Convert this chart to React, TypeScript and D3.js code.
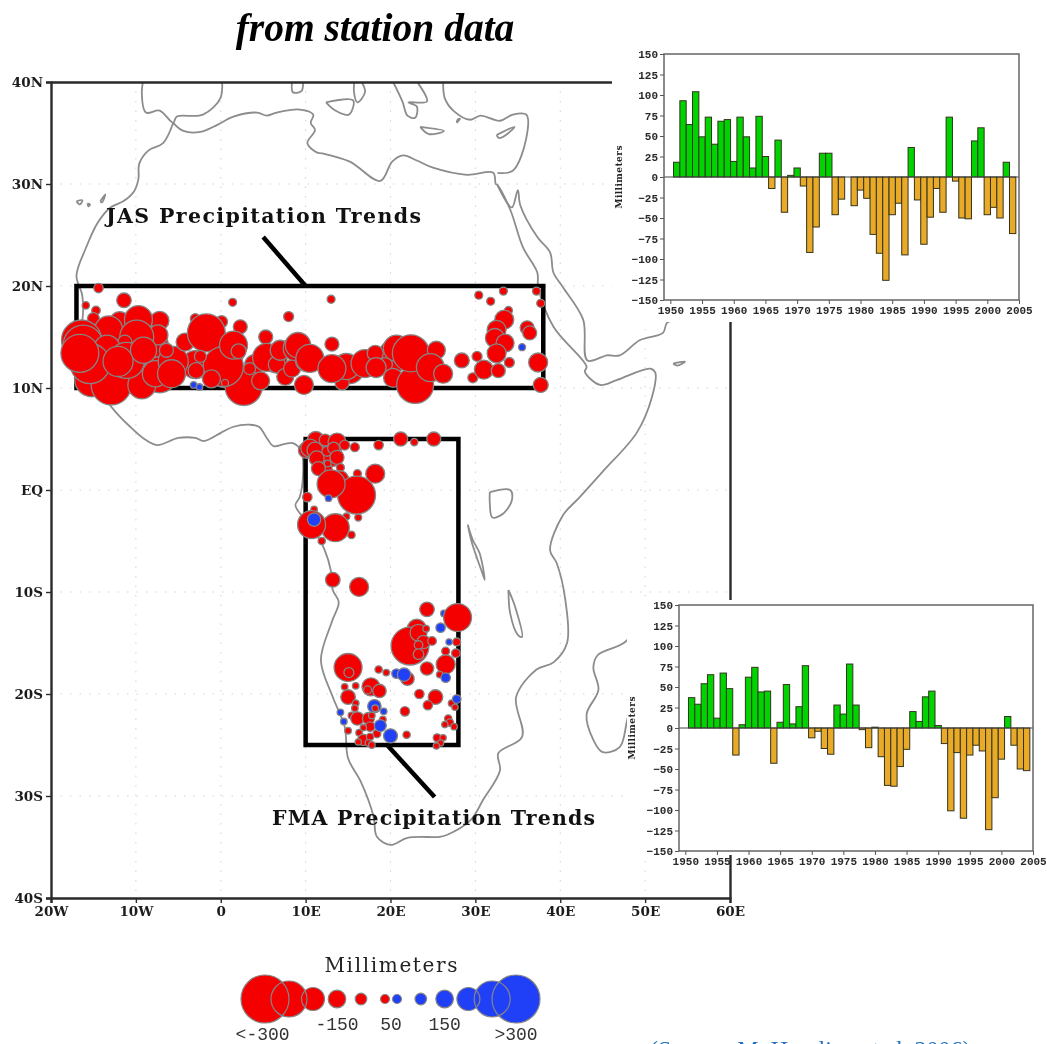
import React, { useEffect, useRef } from 'react';
import * as d3 from 'd3';

type Pt = [number, number];
type Station = [number, number, number];

// yearly anomalies, mm
const years = d3.range(1951, 2005);
const jasValues = [18, 93, 64, 104, 49, 73, 40, 68, 70, 19, 73, 49, 11, 74, 25, -14, 45, -43, 2, 11, -11, -92, -61, 29, 29, -46, -27, 0, -35, -16, -26, -70, -93, -126, -46, -32, -95, 36, -28, -82, -49, -14, -43, 73, -5, -50, -51, 44, 60, -46, -37, -50, 18, -69];
const fmaValues = [37, 29, 54, 65, 12, 67, 48, -33, 4, 62, 74, 44, 45, -43, 7, 53, 5, 26, 76, -12, -4, -25, -32, 28, 17, 78, 28, -2, -24, 1, -35, -70, -71, -47, -26, 20, 8, 38, 45, 3, -19, -101, -30, -110, -33, -21, -28, -124, -85, -38, 14, -21, -50, -52];
const barTicks = d3.range(-150, 151, 25);
const yearTicks = d3.range(1950, 2006, 5);

const latTicks = [40, 30, 20, 10, 0, -10, -20, -30, -40];
const lonTicks = [-20, -10, 0, 10, 20, 30, 40, 50, 60];

const jasBox = [-17, 38, 10, 20];
const fmaBox = [10, 28, -25, 5];

// lon, lat outlines
const africa: Pt[] = [[-5.6, 36], [-6.8, 34], [-8.5, 33.3], [-9.6, 32], [-9.7, 30.5], [-10.2, 29.3], [-11.5, 28.3], [-13, 27.7], [-14.5, 26.2], [-15.9, 23.7], [-17, 21], [-16.3, 19], [-16.5, 16], [-17.5, 14.7], [-16.7, 13], [-16.7, 12.3], [-15, 11], [-13.7, 9.5], [-13.2, 8.5], [-12, 7.3], [-10.8, 6.3], [-9, 5], [-7.5, 4.4], [-5, 5.1], [-3, 5.1], [-2, 4.8], [0, 5.6], [1.5, 6.2], [3.4, 6.4], [4.5, 6.2], [5.5, 5], [6.2, 4.3], [7.5, 4.5], [8.5, 4.6], [9.5, 3.8], [9.7, 1.5], [9.3, -0.7], [8.8, -1.5], [10, -3], [11.2, -4.3], [12.2, -5.8], [13, -8], [13.2, -9.8], [13.9, -11], [13.1, -12.9], [11.8, -16.7], [13.2, -20.3], [14.6, -23.2], [15, -26.3], [16.5, -28.6], [18, -32], [18.4, -34], [20, -34.8], [22, -34.1], [25.8, -34], [26.7, -33.8], [29.4, -32.4], [30.9, -30.4], [32.9, -27.5], [32.7, -25.8], [35.5, -24.2], [34.8, -20.3], [37.2, -17.6], [39.2, -16.9], [40.8, -15], [40.6, -10.8], [39.6, -7.2], [38.8, -5.9], [40.3, -2.5], [42.3, -0.7], [45, 1.8], [49, 5.6], [50.8, 9.1], [51.2, 11.5], [50.6, 11.9], [46.7, 10.8], [44.7, 10.3], [42.9, 11.6], [43.1, 12.1], [39.2, 16], [37.4, 19.9], [37.3, 21.3], [35.6, 23.8], [34.1, 27.5], [32.6, 29.9], [32.4, 30], [32.1, 31.1], [29, 30.9], [25, 31.6], [23.1, 32.3], [21.5, 32.8], [20.2, 32.2], [18.8, 30.3], [15.2, 32.2], [12, 33], [11.3, 33.1], [10.2, 34], [11.1, 35.3], [10.6, 36], [10.9, 36.8], [9.3, 37.3], [6.6, 37], [5.4, 36.7], [4.3, 37], [1.5, 36.6], [-0.4, 35.8], [-2.4, 35.1], [-4.4, 35.2], [-5.6, 36]];
const iberia: Pt[] = [[-8.9, 41], [-9.3, 39], [-8.8, 37], [-7.2, 37.2], [-5.6, 36], [-5.2, 36.6], [-2.1, 36.8], [0, 38.5], [0, 41]];
const levant: Pt[] = [[26.2, 41], [26.2, 39.7], [26.4, 38.4], [27.4, 37.2], [29.4, 36.3], [30.6, 36.7], [32.9, 36.2], [34.4, 36.8], [36, 36.8], [36, 34.5], [34.4, 31.3], [32.6, 31.1]];
const arabia: Pt[] = [[32.6, 29.9], [34.3, 27.7], [35, 29.4], [35.3, 27.9], [37.3, 24.8], [38.8, 23.3], [39.2, 21.3], [40.3, 19.9], [42.7, 16.7], [43.2, 12.7], [45.5, 13.2], [47, 13.2], [49.4, 14.7], [52.1, 15.4], [52.6, 16.4], [55.3, 17.2], [57, 18.5], [59, 21]];
const italy: Pt[] = [[15.8, 40.5], [15.7, 39], [16.1, 38], [17, 39], [16.6, 40]];
const greece: Pt[] = [[20, 40.5], [21.4, 38.1], [22, 36.7], [22.9, 36.5], [23.1, 37.6], [22.1, 38], [24.3, 38.1], [22.7, 40.5]];
const madagascar: Pt[] = [[49.3, -12], [47.8, -14.8], [44.4, -16.2], [43.9, -17.4], [44.5, -19.6], [43.1, -22], [43.9, -24.5], [45, -25.7], [47, -25.2], [47.9, -22.5], [49.5, -17], [50, -15], [49.3, -12]];
const islands: Pt[][] = [
  [[8.4, 40], [8.5, 39], [9.5, 39.1], [9.7, 40]],
  [[12.4, 38], [15.6, 38.2], [15.1, 36.8], [13.5, 37.2], [12.4, 38]],
  [[23.5, 35.6], [26.3, 35.2], [24.5, 34.9], [23.5, 35.6]],
  [[32.5, 34.8], [34.6, 35.6], [33.6, 34.8], [32.8, 34.5], [32.5, 34.8]],
  [[27.8, 36], [28.2, 36.4], [27.9, 36.3], [27.8, 36]],
  [[53.3, 12.4], [54.7, 12.6], [53.8, 12.2], [53.3, 12.4]],
  [[-17, 28.3], [-16.3, 28.4], [-16.6, 28], [-17, 28.3]],
  [[-15.7, 28.1], [-15.4, 28], [-15.6, 27.8], [-15.7, 28.1]],
  [[-14.2, 28.3], [-13.6, 29], [-14, 28.2], [-14.2, 28.3]],
  [[31.7, -0.2], [34.1, 0], [34.3, -1], [33.3, -2.3], [32, -2.7], [31.7, -1.3], [31.7, -0.2]],
  [[29.1, -3.4], [29.6, -5.2], [30.8, -8.1], [31.1, -8.8], [30.5, -6.2], [29.7, -4.9], [29.1, -3.4]],
  [[33.9, -9.8], [34.7, -11.5], [35.5, -14.4], [35, -14.2], [34.1, -12.1], [33.9, -9.8]],
];

// lon, lat, trend in mm, later rows sit on top
const jasStations: Station[] = [
  [-12.5, 15.2, -227], [-8.3, 14.2, -250], [-11.9, 11.8, -267], [-7.2, 11.3, -250], [-3, 12.3, -219], [1.1, 13.7, -227], [0.5, 11.8, -250], [4, 12.3, -172], [6.4, 12.7, -204], [15.2, 11.8, -219], [20.5, 13.2, -235],
  [-14.4, 19.8, -58], [-15.9, 18.1, -23], [-11.4, 18.6, -125], [-14.7, 17.6, -43], [-15, 16.8, -103], [-11.9, 16.5, -172], [-13.2, 15.7, -219], [-7.2, 16.6, -160], [-7.4, 15.2, -172], [-16.4, 14.7, -267], [-16.2, 14.2, -267], [-9.7, 16.7, -219], [-9.9, 15, -242], [-11.3, 14.5, -120], [-13.4, 13.9, -212], [-15.2, 10.8, -242], [-12.9, 10.3, -267], [-9.3, 10.3, -219], [-15.4, 12.4, -267], [-11.1, 12.7, -250], [-9.1, 13.7, -212], [-7.7, 11.4, -212], [-5.6, 12.6, -227], [-6.4, 13.7, -120], [-5.8, 11.4, -219], [-16.6, 13.4, -258], [-12.1, 12.6, -227], [-4.2, 14.5, -154], [-3, 16.8, -69], [0.1, 16.5, -103], [-1.7, 15.4, -258], [2.3, 16, -120], [2.7, 10.1, -254], [0.3, 12.1, -267], [1.5, 14.2, -219], [-2.4, 13.1, -103], [2.1, 13.6, -128], [-2.9, 11.7, -137], [-1.1, 10.9, -154], [0.5, 10.5, -17], [3.4, 11.9, -103], [4.7, 10.7, -154], [5.3, 15, -120], [5.4, 13, -219], [6.6, 12.3, -145], [7, 13.7, -172], [7.6, 11.1, -145], [8.9, 13.9, -212], [8.4, 11.9, -145], [10.1, 12.7, -191], [9.8, 10.3, -163], [1.4, 18.4, -33], [8, 17, -69],
  [13, 18.7, -33], [9.1, 14.2, -209], [10.5, 12.9, -219], [13.1, 14.3, -120], [14.3, 10.5, -120], [14.8, 12.1, -212], [13.1, 11.9, -219], [17, 12.4, -219], [18.2, 13.4, -137], [19.4, 12.3, -120], [18.3, 12, -172], [20.3, 11, -163], [20.7, 13.9, -212], [22.9, 10.3, -254], [22.4, 13.4, -254], [25.4, 13.7, -154], [24.7, 12, -219], [26.2, 11.4, -163], [28.4, 12.7, -128], [30.2, 13.1, -69], [29.7, 11, -69], [31, 11.8, -163], [32.7, 11.7, -120], [33.9, 17.6, -33], [33.4, 16.7, -163], [32.5, 15.7, -163], [32.3, 14.9, -163], [33.5, 14.4, -154], [32.5, 13.4, -163], [34, 12.5, -69], [36.1, 15.9, -120], [36.4, 15.4, -120], [37.4, 12.5, -163], [37.7, 10.3, -128], [30.4, 19.1, -33], [31.8, 18.5, -33], [33.3, 19.5, -33], [37.2, 19.5, -33], [37.7, 18.3, -33],
  [-3.2, 10.3, 8], [-2.5, 10.1, 8], [35.5, 14, 17],
];
const fmaStations: Station[] = [
  [11.7, 3.4, -191], [13.2, 3.3, -172], [12.2, 2, -137],
  [11.2, 4.9, -145], [12.3, 4.9, -103], [13.7, 4.7, -154], [10.1, 3.9, -137], [10.5, 4.1, -154], [11.1, 3.9, -137], [12.5, 3.8, -69], [13.3, 4.1, -103], [14.6, 4.4, -69], [15.8, 4.2, -50], [18.6, 4.4, -58], [21.2, 5, -120], [22.8, 4.7, -23], [25.1, 5, -120], [11.3, 3.1, -128], [13.7, 3.2, -120], [11.5, 2.1, -120], [12.6, 2.6, -10], [14.1, 2.2, -33], [16.1, 1.6, -33], [14.8, -2.6, -17], [16.2, -2.7, -17], [14.1, 1.1, -137], [16, -0.5, -258], [13, 0.6, -219], [18.2, 1.6, -163], [10.2, -0.7, -58], [11, -1.9, -10], [13.5, -3.7, -219], [10.7, -3.4, -219], [15.4, -4.4, -23], [11.9, -5, -23], [13.2, -8.8, -125], [16.3, -9.5, -163],
  [12.7, -0.8, 10], [11, -2.9, 115],
  [26.3, -12.1, 10], [24.3, -11.7, -125], [23.1, -13.6, -163], [27.9, -12.5, -219], [22.3, -15.3, -258], [23.3, -14, -145], [24.2, -13.6, -10], [23.9, -14.9, -115], [23.3, -15.2, -43], [23.3, -16.1, -80], [24.9, -14.8, -43], [26.9, -14.9, 5], [27.8, -14.9, -33], [26.5, -15.8, -33], [27.7, -16, -43], [26.5, -17.1, -163], [24.3, -17.5, -115], [25.8, -18.1, -10], [15, -17.4, -219], [15.1, -17.9, -69], [18.6, -17.6, -23], [19.5, -17.9, -10], [22, -18.5, -115], [17.7, -19.3, -154], [18.7, -19.7, -115], [17.3, -19.6, -33], [14.6, -19.3, -10], [15.9, -19.2, -10], [15, -20.3, -125], [15.9, -20.9, -10], [15.8, -21.4, -10], [23.4, -20, -58], [25.3, -20.3, -125], [24.4, -21.1, -58], [27.2, -20.9, -10], [27.6, -21.3, -5], [21.7, -21.7, -58], [15.4, -22.1, -10], [16.1, -22.4, -115], [17.4, -22.4, -103], [19.1, -22.5, -10], [17.8, -22.1, -10], [17.6, -23.2, -58], [16.8, -23.3, -5], [15, -23.6, -10], [16.3, -23.8, -10], [18.4, -23.9, -33], [21.9, -24, -23], [16.8, -24.5, -95], [17.6, -24.2, -23], [16.2, -24.7, -5], [17.4, -24.8, -10], [17.8, -25, -10], [26.8, -22.4, -23], [27, -22.8, -23], [26.4, -23, -5], [27.5, -23.2, -8], [25.5, -24.3, -33], [26.2, -24.3, -5], [25.9, -24.8, -5], [25.4, -25.1, -5],
  [25.9, -13.5, 58], [26.5, -18.4, 58], [20.7, -18, 58], [21.6, -18.1, 115], [27.8, -20.5, 43], [18.1, -21.2, 115], [18.2, -21.4, -10], [19.2, -21.7, 10], [14.1, -21.8, 10], [14.5, -22.7, 10], [18.8, -23.1, 103], [20, -24.1, 120],
];

const legendValues = [-300, -250, -200, -150, -100, -50, 50, 100, 150, 200, 250, 300];
const legendLabels: [number, string, number][] = [[-305, '<-300', 1040], [-150, '-150', 1030], [0, '50', 1030], [150, '150', 1030], [300, '>300', 1040]];

const RED = '#f50000';
const BLUE = '#2040f8';
const OUTLINE = '#858585';
const MONO = '"Liberation Mono", monospace';
const SLAB = '"DejaVu Serif", serif';

const x = d3.scaleLinear().domain([-20, 60]).range([51, 730]);
const y = d3.scaleLinear().domain([40, -40]).range([82, 898]);
const radius = d3.scaleLinear().domain([0, 50, 100, 150, 200, 250, 300]).range([3, 4.5, 5.8, 8.8, 11.5, 18, 24]);

function drawBars(svg: any, values: number[], left: number, right: number, top: number, bottom: number, labelX: number) {
  const sx = d3.scaleLinear().domain([1949, 2005]).range([left, right]);
  const sy = d3.scaleLinear().domain([-150, 150]).range([bottom, top]);
  const g = svg.append('g');
  const step = sx(1) - sx(0);

  g.append('g').selectAll('rect').data(values).join('rect')
    .attr('x', (_: number, i: number) => sx(years[i]) - step / 2)
    .attr('width', step)
    .attr('y', (d: number) => sy(Math.max(d, 0)))
    .attr('height', (d: number) => Math.abs(sy(d) - sy(0)))
    .attr('fill', (d: number) => (d >= 0 ? '#00d400' : '#e8aa28'))
    .attr('stroke', '#33331c').attr('stroke-width', 1);

  g.append('line').attr('x1', left).attr('x2', right).attr('y1', sy(0)).attr('y2', sy(0))
    .attr('stroke', '#444').attr('stroke-width', 1);
  g.append('rect').attr('x', left).attr('y', top).attr('width', right - left).attr('height', bottom - top)
    .attr('fill', 'none').attr('stroke', '#666').attr('stroke-width', 1.5);

  const ya = g.append('g').attr('transform', `translate(${left},0)`)
    .call(d3.axisLeft(sy).tickValues(barTicks).tickSize(4).tickPadding(2).tickFormat(d3.format('d') as any));
  const xa = g.append('g').attr('transform', `translate(0,${bottom})`)
    .call(d3.axisBottom(sx).tickValues(yearTicks).tickSize(4).tickPadding(2).tickFormat(d3.format('d') as any));
  [ya, xa].forEach((a) => {
    a.select('.domain').remove();
    a.selectAll('line').attr('stroke', '#555');
    a.selectAll('text').attr('font-family', MONO).attr('font-weight', 'bold').attr('font-size', 11).attr('fill', '#2a2a2a');
  });

  g.append('text').attr('transform', `translate(${labelX},${(top + bottom) / 2}) rotate(-90)`)
    .attr('text-anchor', 'middle').attr('dy', '0.35em').attr('font-family', SLAB).attr('font-weight', 'bold')
    .attr('font-size', 9).attr('textLength', 63).attr('fill', '#222').text('Millimeters');
}

function App() {
  const ref = useRef<SVGSVGElement>(null);

  useEffect(() => {
    const svg = d3.select(ref.current);
    svg.selectAll('*').remove();

    svg.append('clipPath').attr('id', 'map-clip').append('rect')
      .attr('x', x(-20)).attr('y', y(40)).attr('width', x(60) - x(-20)).attr('height', y(-40) - y(40));

    const map = svg.append('g').attr('clip-path', 'url(#map-clip)');

    // dotted graticule
    latTicks.slice(1, -1).forEach((t) => {
      map.append('line').attr('x1', x(-20)).attr('x2', x(60)).attr('y1', y(t)).attr('y2', y(t))
        .attr('stroke', '#d2d2d2').attr('stroke-dasharray', '1.5 8');
    });
    lonTicks.slice(1, -1).forEach((t) => {
      map.append('line').attr('x1', x(t)).attr('x2', x(t)).attr('y1', y(40)).attr('y2', y(-40))
        .attr('stroke', '#d2d2d2').attr('stroke-dasharray', '1.5 8');
    });

    const line = d3.line<Pt>().x((d) => x(d[0])).y((d) => y(d[1]));
    const coast = d3.line<Pt>().x((d) => x(d[0])).y((d) => y(d[1])).curve(d3.curveCatmullRom);
    [africa, iberia, levant, arabia, italy, greece, madagascar, ...islands].forEach((shape) => {
      map.append('path').attr('d', coast(shape)).attr('fill', 'none')
        .attr('stroke', '#8c8c8c').attr('stroke-width', 1.8).attr('stroke-linejoin', 'round');
    });

    // frame and axes
    const axes = [
      d3.axisLeft(y).tickValues(latTicks).tickSize(5).tickPadding(3)
        .tickFormat((d: any) => (d === 0 ? 'EQ' : `${Math.abs(d)}${d > 0 ? 'N' : 'S'}`)),
      d3.axisBottom(x).tickValues(lonTicks).tickSize(5).tickPadding(3)
        .tickFormat((d: any) => (d === 0 ? '0' : `${Math.abs(d)}${d > 0 ? 'E' : 'W'}`)),
    ];
    svg.append('g').attr('transform', `translate(${x(-20)},0)`).call(axes[0] as any).attr('class', 'ax');
    svg.append('g').attr('transform', `translate(0,${y(-40)})`).call(axes[1] as any).attr('class', 'ax');
    svg.append('g').attr('transform', `translate(0,${y(40)})`).call(d3.axisTop(x).tickValues([]).tickSize(0) as any).attr('class', 'ax');
    svg.append('g').attr('transform', `translate(${x(60)},0)`).call(d3.axisRight(y).tickValues([]).tickSize(0) as any).attr('class', 'ax');
    svg.selectAll('.ax .domain').attr('stroke', '#2a2a2a').attr('stroke-width', 2.4);
    svg.selectAll('.ax line').attr('stroke', '#2a2a2a').attr('stroke-width', 1.4);
    svg.selectAll('.ax text').attr('font-family', SLAB).attr('font-weight', 'bold').attr('font-size', 13.5).attr('fill', '#1c1c1c');

    // boxes and their leaders
    [jasBox, fmaBox].forEach((b) => {
      svg.append('rect').attr('x', x(b[0])).attr('y', y(b[3])).attr('width', x(b[1]) - x(b[0])).attr('height', y(b[2]) - y(b[3]))
        .attr('fill', 'none').attr('stroke', '#000').attr('stroke-width', 4.5);
    });
    const leaders: Pt[][] = [[[5, 24.8], [10, 20]], [[19.6, -25], [25.2, -30.1]]];
    leaders.forEach((l) => {
      svg.append('path').attr('d', line(l)).attr('stroke', '#000').attr('stroke-width', 4.5).attr('fill', 'none');
    });

    svg.append('g').selectAll('circle').data([...jasStations, ...fmaStations]).join('circle')
      .attr('cx', (d) => x(d[0])).attr('cy', (d) => y(d[1])).attr('r', (d) => radius(Math.abs(d[2])))
      .attr('fill', (d) => (d[2] < 0 ? RED : BLUE))
      .attr('stroke', OUTLINE).attr('stroke-width', 1.3);

    // annotation text
    const note = (label: string, px: number, py: number, len: number) => {
      svg.append('text').attr('x', px).attr('y', py).attr('textLength', len).attr('lengthAdjust', 'spacing')
        .attr('font-family', SLAB).attr('font-weight', 'bold').attr('font-size', 20.5).attr('fill', '#111').text(label);
    };
    note('JAS Precipitation Trends', 106, 223, 315);
    note('FMA Precipitation Trends', 272, 825, 323);

    svg.append('text').attr('x', 375).attr('y', 41).attr('text-anchor', 'middle')
      .attr('font-family', '"Liberation Serif", serif').attr('font-weight', 'bold').attr('font-style', 'italic')
      .attr('font-size', 39.5).attr('fill', '#000').text('from station data');

    // panels hide the map underneath
    svg.append('rect').attr('x', 612).attr('y', 40).attr('width', 435).attr('height', 282).attr('fill', '#fff');
    svg.append('rect').attr('x', 627).attr('y', 600).attr('width', 420).attr('height', 255).attr('fill', '#fff');
    drawBars(svg, jasValues, 664, 1019, 54, 300, 619);
    drawBars(svg, fmaValues, 679, 1033, 605, 851, 632);

    // legend, fills first so both outlines show where circles overlap
    const lx = d3.scaleLinear().domain([-300, -50, 50, 300]).range([265, 385, 397, 516]);
    const legend = svg.append('g');
    legend.append('g').selectAll('circle').data(legendValues).join('circle')
      .attr('cx', (d) => lx(d)).attr('cy', 999).attr('r', (d) => radius(Math.abs(d)))
      .attr('fill', (d) => (d < 0 ? RED : BLUE));
    legend.append('g').selectAll('circle').data(legendValues).join('circle')
      .attr('cx', (d) => lx(d)).attr('cy', 999).attr('r', (d) => radius(Math.abs(d)))
      .attr('fill', 'none').attr('stroke', OUTLINE).attr('stroke-width', 1.2);
    legend.append('text').attr('x', 391).attr('y', 972).attr('text-anchor', 'middle')
      .attr('font-family', SLAB).attr('font-size', 20).attr('textLength', 133).attr('fill', '#222').text('Millimeters');
    legendLabels.forEach(([v, t, py]) => {
      legend.append('text').attr('x', lx(v)).attr('y', py).attr('text-anchor', 'middle')
        .attr('font-family', MONO).attr('font-size', 18).attr('fill', '#333').text(t);
    });

    svg.append('text').attr('x', 650).attr('y', 1057)
      .attr('font-family', '"Liberation Serif", serif').attr('font-size', 24).attr('fill', '#1f6fc0')
      .text('(Source: M. Hoerling et al. 2006)');
  }, []);

  return (
    <svg
      ref={ref}
      width={1047}
      height={1044}
      style={{ position: 'absolute', left: 0, top: 0, display: 'block', background: '#fff', filter: 'blur(0.4px)' }}
    />
  );
}

export default App;
